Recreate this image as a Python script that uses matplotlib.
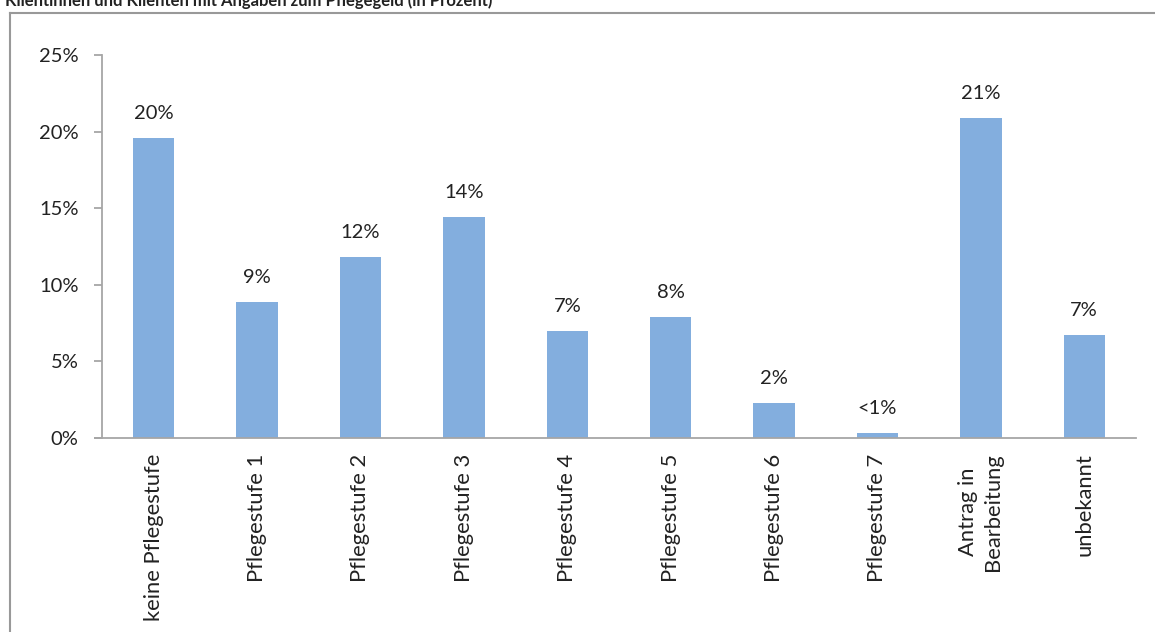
import matplotlib.pyplot as plt
from matplotlib.lines import Line2D
from matplotlib.ticker import FuncFormatter

categories = ['keine Pflegestufe', 'Pflegestufe 1', 'Pflegestufe 2', 'Pflegestufe 3',
              'Pflegestufe 4', 'Pflegestufe 5', 'Pflegestufe 6', 'Pflegestufe 7',
              'Antrag in\nBearbeitung', 'unbekannt']
values = [19.6, 8.9, 11.8, 14.4, 7.0, 7.9, 2.3, 0.3, 20.9, 6.7]
labels = ['20%', '9%', '12%', '14%', '7%', '8%', '2%', '<1%', '21%', '7%']
yticks = [0, 5, 10, 15, 20, 25]

plt.rcParams['font.family'] = ['Lato', 'DejaVu Sans']
grey = '#a6a6a6'
bar_col = '#83aede'
txt = '#222222'
fs = 14.5

fig = plt.figure(figsize=(11.55, 6.32), dpi=100)
ax = fig.add_axes([0.0883, 0.307, 0.8952, 0.606])

x = range(len(categories))
ax.bar(x, values, width=0.4, color=bar_col)
for xi, v, lab in zip(x, values, labels):
    ax.annotate(lab, (xi, v), xytext=(0, 16), textcoords='offset pixels',
                ha='center', va='bottom', fontsize=fs, color=txt)

ax.set_xlim(-0.5, len(categories) - 0.5)
ax.set_ylim(0, 25)
ax.set_yticks(yticks)
ax.yaxis.set_major_formatter(FuncFormatter(lambda v, p: f'{v:.0f}%'))
ax.set_xticks(list(x))
ax.set_xticklabels(categories, rotation=90, fontsize=15.8, va='top', ha='center',
                   multialignment='center', color=txt, linespacing=1.3)

for s in ['top', 'right']:
    ax.spines[s].set_visible(False)
for s in ['left', 'bottom']:
    ax.spines[s].set_color(grey)
    ax.spines[s].set_linewidth(1.3)
ax.spines['bottom'].set_bounds(-0.5 - 7 / 103.4, len(categories) - 0.5)
ax.tick_params(axis='y', direction='out', length=6, width=1.3, color=grey,
               pad=11, labelsize=fs, labelcolor=txt)
ax.tick_params(axis='x', length=0, pad=11)

# outer chart frame
fig.add_artist(Line2D([10 / 1155, 10 / 1155], [0, 1 - 13 / 632],
                      transform=fig.transFigure, color='#999999', lw=1.5))
fig.add_artist(Line2D([10 / 1155, 1], [1 - 13 / 632, 1 - 13 / 632],
                      transform=fig.transFigure, color='#999999', lw=1.5))

fig.text(5 / 1155, 1 - 6 / 632, 'Klientinnen und Klienten mit Angaben zum Pflegegeld (in Prozent)',
         fontsize=12, fontweight='bold', ha='left', va='baseline', color=txt)

fig.savefig('out.png', dpi=100)
